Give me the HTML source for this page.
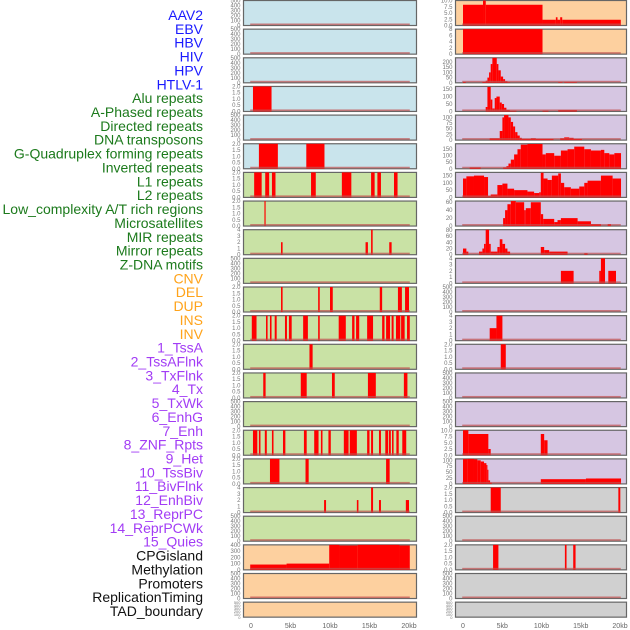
<!DOCTYPE html>
<html><head><meta charset="utf-8"><style>
html,body{margin:0;padding:0;background:#fff;}
svg{display:block;font-family:"Liberation Sans",sans-serif;}
</style></head><body>
<svg id="chart" width="630" height="630" viewBox="0 0 630 630" xmlns="http://www.w3.org/2000/svg"></svg>
<script>
// ---- labels ----
const trackLabels = ["AAV2","EBV","HBV","HIV","HPV","HTLV-1","Alu repeats","A-Phased repeats","Directed repeats","DNA transposons","G-Quadruplex forming repeats","Inverted repeats","L1 repeats","L2 repeats","Low_complexity A/T rich regions","Microsatellites","MIR repeats","Mirror repeats","Z-DNA motifs","CNV","DEL","DUP","INS","INV","1_TssA","2_TssAFlnk","3_TxFlnk","4_Tx","5_TxWk","6_EnhG","7_Enh","8_ZNF_Rpts","9_Het","10_TssBiv","11_BivFlnk","12_EnhBiv","13_ReprPC","14_ReprPCWk","15_Quies","CPGisland","Methylation","Promoters","ReplicationTiming","TAD_boundary"];
const labelGroups = [6,13,5,15,5];
const groupColors = ["#1a1aff","#1c7a1c","#ffa31a","#a23cf5","#111111"];
// ---- axes ----
const xTickValues = [0,5,10,15,20];
const xTickLabels = ["0","5kb","10kb","15kb","20kb"];
// ---- left column ----
const leftBg = ["b","b","b","b","b","b","g","g","g","g","g","g","g","g","g","g","g","g","g","o","o","o"];
const leftMax = [500,500,500,2,500,2,2,2,4,500,2,2,2,2,500,2,2,4,500,400,500,500];
const leftSeries = [
 [],[],[],
 [[0.25,2.6,2]],
 [],
 [[1.0,3.4,2],[7.0,9.3,2]],
 [[0.4,1.35,2],[1.8,2.3,2],[2.65,3.1,2],[7.6,8.2,2],[11.5,12.7,2],[15.2,15.65,2],[16.0,16.45,2],[18.1,18.55,2]],
 [[1.7,1.85,2]],
 [[3.8,4.0,2],[14.5,14.8,2],[15.2,15.4,4],[17.5,17.8,2]],
 [],
 [[3.8,4.0,2],[8.5,8.7,2],[10.0,10.35,2],[16.3,16.6,2],[18.6,19.1,2],[19.5,20.0,2]],
 [[0.1,0.7,2],[1.9,2.1,2],[2.4,2.6,2],[3.0,3.25,2],[4.3,4.55,2],[4.8,5.15,2],[6.6,7.2,2],[8.5,8.7,2],[11.1,12.0,2],[12.8,13.1,2],[13.3,13.7,2],[14.7,15.45,2],[16.6,16.9,2],[17.1,17.6,2],[17.8,18.05,2],[18.35,18.9,2],[19.0,19.45,2],[19.75,20.1,2]],
 [[7.4,7.8,2]],
 [[1.55,1.85,2],[6.3,7.05,2],[10.25,10.6,2],[14.8,15.8,2],[19.35,19.8,2]],
 [],
 [[0.25,0.8,2],[1.0,1.2,2],[1.75,2.0,2],[2.65,2.85,2],[4.05,4.35,2],[6.7,7.05,2],[8.0,8.55,2],[8.85,9.05,2],[9.8,10.1,2],[11.75,12.35,2],[12.5,13.4,2],[14.7,15.0,2],[15.2,15.45,2],[16.2,16.45,2],[17.0,17.35,2],[17.45,17.7,2],[17.85,18.05,2],[18.4,18.7,2],[19.15,19.65,2]],
 [[2.4,3.6,2],[6.9,7.3,2],[17.1,17.55,2]],
 [[9.25,9.5,2],[13.4,13.6,2],[15.2,15.45,4],[16.2,16.45,2],[19.6,20.0,2]],
 [],
 [[-0.1,4.5,85],[4.5,9.9,100],[9.9,11.2,400],[11.2,13.5,390],[13.5,18.8,400],[18.8,20.1,390]],
 [],[]
];
// ---- right column ----
const rightBg = ["o","o","p","p","p","p","p","p","p","p","p","p","p","p","p","p","p","y","y","y","y","y"];
const rightMax = [10,8,240,168,110,192,172,63,81,4,500,4,2,500,500,10,106,2,500,2,500,500];
const rightSeries = [
 [[0,2.55,8.3],[2.55,2.9,10],[2.9,10.13,8.3],[10.13,11.83,2.3],[11.83,12.04,3.3],[12.04,12.38,2.3],[12.38,12.64,3.3],[12.64,20.1,2.3]],
 [[0,10.13,8]],
 [[0,0.35,8],[2.47,2.89,8],[2.89,3.11,20],[3.11,3.32,50],[3.32,3.53,100],[3.53,3.74,180],[3.74,4.3,240],[4.3,4.51,180],[4.51,4.81,120],[4.81,5.11,60],[5.11,5.36,35],[5.36,5.66,15],[5.66,6.0,5],[12.13,12.68,5],[12.89,14.51,5]],
 [[2.89,3.11,30],[3.11,3.53,165],[3.53,3.74,80],[3.74,4.04,20],[4.04,4.26,90],[4.26,4.68,100],[4.68,4.94,60],[4.94,5.23,50],[5.23,5.53,25],[5.53,5.96,10],[5.96,6.81,5],[10.13,10.89,5],[12.13,14.51,10]],
 [[3.4,4.68,8],[4.68,5.02,40],[5.02,5.23,100],[5.23,5.79,110],[5.79,6.09,100],[6.09,6.38,80],[6.38,6.64,60],[6.64,6.94,35],[6.94,7.23,20],[7.23,7.49,10],[7.49,8.64,5],[8.64,9.28,8],[9.28,11.53,5],[12.38,12.89,8],[12.89,13.53,12],[13.53,14.09,10],[14.09,15.15,5]],
 [[0.85,2.26,10],[5.11,5.53,10],[5.53,5.79,20],[5.79,6.09,40],[6.09,6.51,70],[6.51,6.94,110],[6.94,7.36,150],[7.36,8.21,185],[8.21,10.13,190],[10.13,10.55,110],[10.55,11.62,120],[11.62,12.47,100],[12.47,13.32,140],[13.32,14.17,150],[14.17,15.45,170],[15.45,16.3,150],[16.3,17.57,140],[17.57,18.0,145],[18.0,18.64,120],[18.64,19.28,110],[19.28,20.13,120]],
 [[0,0.43,130],[0.43,1.4,145],[1.4,2.68,150],[2.68,3.19,140],[3.19,3.53,10],[3.53,4.38,20],[4.38,5.02,85],[5.02,5.66,95],[5.66,6.51,60],[6.51,8.21,50],[8.21,9.06,40],[9.06,9.7,30],[9.7,9.91,35],[9.91,10.26,170],[10.26,10.77,130],[10.77,11.32,120],[11.32,12.13,150],[12.13,12.47,165],[12.47,12.89,100],[12.89,13.74,70],[13.74,14.81,60],[14.81,15.45,75],[15.45,15.87,100],[15.87,17.57,115],[17.57,19.06,150],[19.06,20.13,130]],
 [[5.11,5.36,20],[5.36,5.66,40],[5.66,6.09,55],[6.09,6.72,63],[6.72,7.79,60],[7.79,8.0,40],[8.0,8.64,45],[8.64,9.91,60],[9.91,10.21,30],[10.21,11.62,18],[11.62,12.04,10],[12.04,12.47,15],[12.47,14.6,20],[14.6,16.3,12],[16.3,17.57,5],[18.43,18.85,5]],
 [[0,0.43,20],[0.43,0.68,10],[2.04,2.47,10],[2.47,2.68,20],[2.68,2.89,35],[2.89,3.32,81],[3.32,3.53,35],[3.53,4.38,10],[4.38,4.68,25],[4.68,5.02,50],[5.02,5.36,35],[5.36,5.66,20],[5.66,6.0,10],[9.91,10.34,25],[10.34,10.98,15],[10.98,13.32,10],[15.45,15.87,5]],
 [[12.47,14.09,2],[17.36,17.57,2],[17.57,18.09,4],[18.51,19.49,2]],
 [],
 [[3.4,4.26,2],[4.26,5.02,4]],
 [[4.81,5.45,2]],
 [],[],
 [[0,0.68,10],[0.68,3.23,8.5],[3.23,3.53,2.5],[9.91,10.34,8.5],[10.34,10.77,6]],
 [[0,0.55,105],[0.55,1.4,106],[1.4,1.83,104],[1.83,2.26,100],[2.26,2.68,95],[2.68,2.98,88],[2.98,3.11,80],[3.11,3.23,60],[3.23,3.45,15],[3.45,3.66,5],[9.91,15.66,20],[15.66,20.13,23]],
 [[3.53,4.81,2],[19.79,20.04,2]],
 [],
 [[3.83,4.51,2],[12.98,13.19,2],[14.04,14.34,2]],
 [],[]
];
const bgColors = {b:"#c9e4ec",g:"#c9e2a5",o:"#fdd09f",p:"#d6c6e2",y:"#d0d0d0"};
function ticksFor(max){
  if(max===500) return [0,100,200,300,400,500];
  if(max===400) return [0,100,200,300,400];
  if(max===2) return [0,0.5,1,1.5,2];
  if(max===4) return [0,1,2,3,4];
  if(max===10) return [0,2.5,5,7.5,10];
  if(max===8) return [0,2,4,6,8];
  if(max===240) return [0,50,100,150,200];
  if(max>=160) return [0,50,100,150];
  if(max>=100) return [0,25,50,75,100];
  if(max>=75) return [0,20,40,60,80];
  return [0,20,40,60];
}
function fmt(v,max){ return (max===2||max===10) ? v.toFixed(1) : String(v); }
const NS="http://www.w3.org/2000/svg";
const svg=document.getElementById('chart');
function mk(tag,attrs,parent){const e=document.createElementNS(NS,tag);for(const k in attrs)e.setAttribute(k,attrs[k]);(parent||svg).appendChild(e);return e;}
// labels
let li=0;
labelGroups.forEach((n,g)=>{for(let i=0;i<n;i++){
  const t=mk('text',{x:203,y:20+li*13.86,'text-anchor':'end','font-size':14,fill:groupColors[g]});
  
  
  t.textContent=trackLabels[li];li++;}});
function rowTop(i){return i*28.65;}
function rowH(i){return i===21?15:25;}
function drawColumn(side,x0,x1,dx0,dx1,bg,maxes,series){
  const xs=v=>dx0+(v/20)*(dx1-dx0);
  for(let i=0;i<22;i++){
    const top=rowTop(i),h=rowH(i),max=maxes[i];
    const g=mk('g',{});
    
    
    mk('rect',{x:x0,y:top+0.5,width:x1-x0,height:h,fill:bgColors[bg[i]],stroke:'#666','stroke-width':1.2},g);
    const ys=v=>top+0.5+h-(v/max)*h;
    series[i].forEach(d=>{
      const r=mk('rect',{x:xs(d[0]),y:ys(d[2]),width:Math.max(1,xs(d[1])-xs(d[0])),height:(d[2]/max)*h,fill:'#ff0000'},g);
      
      
    });
    if(i<21) mk('rect',{x:xs(-0.1),y:top+h-1.5,width:xs(20.1)-xs(-0.1),height:1.6,fill:'#c05050',opacity:0.7},g);
    ticksFor(max).forEach(t=>{
      const tx=mk('text',{x:x0-3,y:ys(t)+2,'text-anchor':'end','font-size':i===21?4:6,fill:'#777'},g);
      
      
      tx.textContent=fmt(t,max);
    });
  }
  xTickValues.forEach((v,k)=>{
    const t=mk('text',{x:xs(v),y:628,'text-anchor':'middle','font-size':7,fill:'#666'});
    
    
    t.textContent=xTickLabels[k];
  });
}
drawColumn('left',243.5,416.5,251,409,leftBg,leftMax,leftSeries);
drawColumn('right',455.5,626.5,463,620,rightBg,rightMax,rightSeries);
</script>
</body></html>
